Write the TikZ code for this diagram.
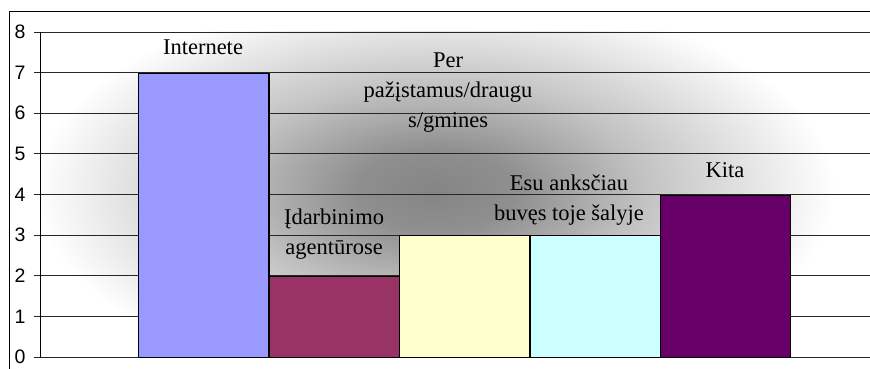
\documentclass[tikz,border=0pt]{standalone}
\usepackage{fontspec}
\setmainfont{Liberation Serif}
\newfontfamily\axisfont{Liberation Sans}
\pgfdeclareradialshading{glowshade}{\pgfpoint{0bp}{0bp}}{color(0bp)=(black!48);color(2.5bp)=(black!44);color(6.5bp)=(black!24);color(12.5bp)=(white);color(50bp)=(white)}
\begin{document}
\begin{tikzpicture}[x=1pt,y=-1pt,
  barbox/.style={draw=black,line width=1.3pt,anchor=north west,inner sep=0pt,minimum width=130.4pt},
  lbl/.style={font=\fontsize{22.5}{30}\selectfont,align=center,inner sep=0pt},
  ticklbl/.style={font=\axisfont\fontsize{19.5}{19.5}\selectfont,anchor=center,inner sep=0pt},
  grid/.style={draw=black!85,line width=0.9pt}]
\useasboundingbox (0,0) rectangle (870,369);
\fill[white] (0,0) rectangle (870,369);
% plot area background
\begin{scope}
\clip (40,32) rectangle (870,357);
\fill[white] (40,32) rectangle (870,357);
\fill[shading=glowshade] (435,190) ellipse (800 and 400);
\end{scope}
% outer frame
\draw[line width=1pt] (9,369) -- (9,12) -- (871,12);
% gridlines and ticks
\foreach \v in {0,...,8}{
  \draw[grid] (34,{357-40.625*\v}) -- (871,{357-40.625*\v});
  \node[ticklbl] (t\v) at (20,{357-40.625*\v}) {\v};
}
\draw[line width=1pt] (40,32) -- (40,357);
% bars
\node[barbox,fill={rgb,255:red,153;green,153;blue,255},minimum height={7*40.625pt}] (b1) at (138,{357-7*40.625}) {};
\node[barbox,fill={rgb,255:red,153;green,51;blue,102},minimum height={2*40.625pt}] (b2) at (268.4,{357-2*40.625}) {};
\node[barbox,fill={rgb,255:red,255;green,255;blue,204},minimum height={3*40.625pt}] (b3) at (398.8,{357-3*40.625}) {};
\node[barbox,fill={rgb,255:red,204;green,255;blue,255},minimum height={3*40.625pt}] (b4) at (529.2,{357-3*40.625}) {};
\node[barbox,fill={rgb,255:red,102;green,0;blue,102},minimum height={4*40.625pt}] (b5) at (659.6,{357-4*40.625}) {};
% labels
\node[lbl] (l1) at (203,47) {Internete};
\node[lbl] (l3) at (448,93) {Per\\pažįstamus/draugu\\s/gmines};
\node[lbl] (l2) at (334,234) {Įdarbinimo\\agentūrose};
\node[lbl] (l4) at (569,200) {Esu anksčiau\\buvęs toje šalyje};
\node[lbl] (l5) at (725,170) {Kita};
\end{tikzpicture}
\end{document}
